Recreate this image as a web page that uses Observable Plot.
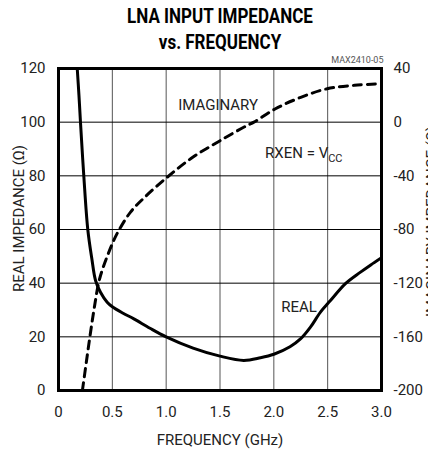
<!DOCTYPE html>
<html>
<head>
<meta charset="utf-8">
<script src="https://cdn.jsdelivr.net/npm/d3@7"></script>
<script src="https://cdn.jsdelivr.net/npm/@observablehq/plot@0.6"></script>
<style>
  html, body { margin: 0; padding: 0; background: #fff; }
  #title {
    width: 428px; height: 56px; box-sizing: border-box;
    padding: 3px 0 0 12px; text-align: center;
    font-family: Roboto, "Liberation Sans", sans-serif;
    font-weight: bold; font-size: 20px; line-height: 26px; color: #000;
    transform: scaleX(0.85); transform-origin: 220px 0;
  }
  #chart svg { display: block; }
</style>
</head>
<body>
<div id="title">LNA INPUT IMPEDANCE<br>vs. FREQUENCY</div>
<div id="chart"></div>
<script>
// Real part of the input impedance (left axis, ohms)
const realFreq = [0.174, 0.19, 0.204, 0.235, 0.272, 0.31, 0.344, 0.39, 0.452, 0.5, 0.6, 0.7, 0.85, 1.0, 1.25, 1.5, 1.72, 1.876, 2.0, 2.15, 2.25, 2.34, 2.433, 2.526, 2.665, 2.805, 2.9, 3.0];
const realOhms = [120, 110, 100, 80, 60, 49, 41, 36.6, 32.9, 31.2, 28.8, 26.7, 23.2, 20, 15.8, 12.8, 11.2, 12.2, 13.5, 16.3, 19.3, 23.6, 29.2, 33.5, 39.8, 44.1, 46.8, 49.5];

// Imaginary part of the input impedance (right axis, ohms)
const imagFreq = [0.222, 0.26, 0.297, 0.335, 0.375, 0.42, 0.514, 0.56, 0.669, 0.8, 1.01, 1.25, 1.505, 1.75, 1.815, 2.015, 2.25, 2.495, 2.75, 3.0];
const imagOhms = [-200, -178, -157, -137, -119, -107, -88, -80.7, -67, -56, -41, -26, -13.6, -2.5, 0, 10, 18.5, 24.9, 27.5, 28.6];

// Axis ticks
const freqTicks = [0, 0.5, 1.0, 1.5, 2.0, 2.5, 3.0];
const realTicks = [0, 20, 40, 60, 80, 100, 120];
const imagTicks = [-200, -160, -120, -80, -40, 0, 40];

// The imaginary axis (-200..40) shares the plot with the real axis (0..120)
const imagMin = -200, imagMax = 40, realMax = 120;
const imagToY = v => (v - imagMin) * realMax / (imagMax - imagMin);
const yToImag = y => Math.round(y * (imagMax - imagMin) / realMax + imagMin);

const realData = realFreq.map((f, i) => ({f, r: realOhms[i]}));
const imagData = imagFreq.map((f, i) => ({f, y: imagToY(imagOhms[i])}));

const font = "Roboto, Liberation Sans, sans-serif";
const ink = "#222";

const chart = Plot.plot({
  width: 428,
  height: 394,
  marginTop: 12,
  marginLeft: 58,
  marginRight: 47,
  marginBottom: 60,
  style: {fontFamily: font, fontSize: "15px", background: "#fff", color: ink},
  x: {domain: [0, 3]},
  y: {domain: [0, 120]},
  marks: [
    Plot.gridX(freqTicks.slice(1, -1), {stroke: "#555", strokeOpacity: 1, strokeWidth: 1}),
    Plot.gridY(realTicks.slice(1, -1), {stroke: "#000", strokeOpacity: 1, strokeWidth: 1}),
    Plot.axisX({ticks: freqTicks, tickSize: 0, tickPadding: 16, label: null,
      tickFormat: d => d === 0 ? "0" : d.toFixed(1)}),
    Plot.axisY({anchor: "left", ticks: realTicks, tickSize: 0, tickPadding: 13, label: null}),
    Plot.axisY({anchor: "right", ticks: imagTicks.map(imagToY), tickSize: 0, tickPadding: 12, label: null,
      tickFormat: d => String(yToImag(d)), textAnchor: "start"}),
    Plot.line(imagData, {x: "f", y: "y", stroke: "#000", strokeWidth: 3,
      strokeDasharray: "8,6", curve: "catmull-rom", clip: true}),
    Plot.line(realData, {x: "f", y: "r", stroke: "#000", strokeWidth: 3,
      curve: "catmull-rom", clip: true}),
    Plot.frame({stroke: "#000", strokeWidth: 3}),
    // curve annotations
    Plot.text(["IMAGINARY"], {x: 1.482, y: 104.4, text: d => d, lineAnchor: "bottom", fontSize: 15, fill: ink}),
    Plot.text(["REAL"], {x: 2.234, y: 29.4, text: d => d, lineAnchor: "bottom", fontSize: 15, fill: ink}),
    Plot.text(["RXEN = V"], {x: 2.505, y: 86.5, text: d => d, textAnchor: "end", lineAnchor: "bottom", fontSize: 15, fill: ink}),
    Plot.text(["CC"], {x: 2.505, y: 85.3, text: d => d, textAnchor: "start", lineAnchor: "bottom", fontSize: 11, fill: ink}),
    Plot.text(["MAX2410-05"], {frameAnchor: "top-right", dx: 2, dy: -6, text: d => d,
      textAnchor: "end", lineAnchor: "bottom", fontSize: 9, fill: "#555"}),
    // axis titles
    Plot.text(["FREQUENCY (GHz)"], {frameAnchor: "bottom", dy: 54, text: d => d,
      textAnchor: "middle", lineAnchor: "bottom", fontSize: 15, fill: ink}),
    Plot.text(["REAL IMPEDANCE (Ω)"], {frameAnchor: "left", dx: -39, dy: -11, rotate: -90,
      textAnchor: "middle", text: d => d, fontSize: 15, fill: ink}),
    Plot.text(["IMAGINARY IMPEDANCE (Ω)"], {frameAnchor: "right", dx: 51, dy: -8, rotate: -90,
      textAnchor: "middle", text: d => d, fontSize: 15, fill: ink})
  ]
});

document.getElementById("chart").appendChild(chart);
</script>
</body>
</html>
